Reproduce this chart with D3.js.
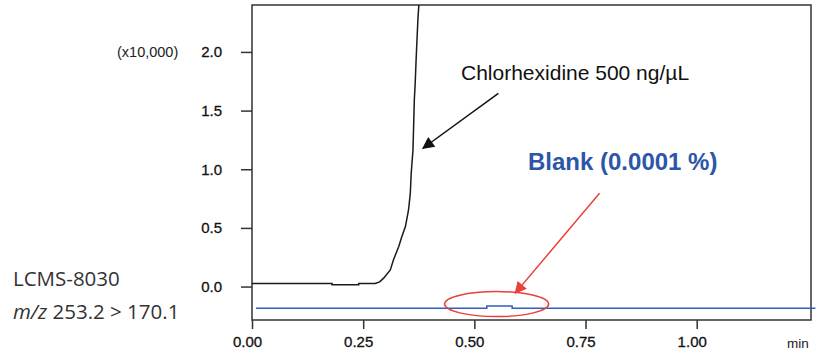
<!DOCTYPE html>
<html>
<head>
<meta charset="utf-8">
<script src="https://cdn.jsdelivr.net/npm/d3@7"></script>
<style>
  body { margin: 0; background: #fff; }
  svg { display: block; }
</style>
</head>
<body>
<figure id="chrom" style="margin:0"></figure>
<script>
// chromatogram traces, time in min, intensity in x10,000
const chxTime = [0, 0.180, 0.180, 0.240, 0.240, 0.277, 0.287, 0.296, 0.311, 0.318, 0.330, 0.337, 0.345, 0.352, 0.356, 0.358, 0.362, 0.365, 0.367, 0.369, 0.373, 0.376, 0.378];
const chxInt  = [0.026, 0.026, 0.015, 0.015, 0.026, 0.026, 0.040, 0.072, 0.142, 0.227, 0.341, 0.426, 0.511, 0.653, 0.796, 0.966, 1.164, 1.590, 1.735, 1.931, 2.272, 2.45, 2.6];

const blankTime = [0.009, 0.528, 0.528, 0.585, 0.585, 1.267];
const blankInt  = [-0.184, -0.184, -0.165, -0.165, -0.184, -0.184];

const xTicks = [0, 0.25, 0.5, 0.75, 1.0];
const yTicks = [0, 0.5, 1.0, 1.5, 2.0];

const width = 818, height = 357;
const plotLeft = 252, plotRight = 811, plotTop = 5, plotBottom = 320;

const svg = d3.select('figure#chrom')
  .append('svg')
  .attr('width', width)
  .attr('height', height);

const x = d3.scaleLinear().domain([0, 1.257]).range([plotLeft, plotRight]);
const y = d3.scaleLinear().domain([-0.285, 2.40]).range([plotBottom, plotTop]);

const tickFont = '"Liberation Sans", Arial, sans-serif';

// y axis
const yAxis = svg.append('g')
  .attr('transform', 'translate(' + plotLeft + ',0)')
  .call(d3.axisLeft(y).tickValues(yTicks).tickSize(11).tickPadding(19).tickFormat(d3.format('.1f')));
yAxis.select('.domain').remove();
yAxis.selectAll('line').attr('stroke', '#333').attr('stroke-width', 1.5);
yAxis.selectAll('text').attr('font-family', tickFont).attr('font-size', 15).attr('fill', '#111')
  .attr('stroke', '#111').attr('stroke-width', 0.3);

// x axis
const xAxis = svg.append('g')
  .attr('transform', 'translate(0,' + plotBottom + ')')
  .call(d3.axisBottom(x).tickValues(xTicks).tickSize(9).tickPadding(7).tickFormat(d3.format('.2f')));
xAxis.select('.domain').remove();
xAxis.selectAll('line').attr('stroke', '#333').attr('stroke-width', 1.5);
xAxis.selectAll('text').attr('font-family', tickFont).attr('font-size', 15).attr('fill', '#111').attr('dx', -5)
  .attr('stroke', '#111').attr('stroke-width', 0.3);

svg.append('text')
  .attr('x', 787).attr('y', 348)
  .attr('font-family', tickFont).attr('font-size', 13.5).attr('fill', '#222')
  .text('min');

svg.append('text')
  .attr('x', 117).attr('y', 57)
  .attr('font-family', tickFont).attr('font-size', 14.5).attr('fill', '#222')
  .text('(x10,000)');

// frame
svg.append('rect')
  .attr('x', plotLeft).attr('y', plotTop)
  .attr('width', plotRight - plotLeft).attr('height', plotBottom - plotTop)
  .attr('fill', 'none').attr('stroke', '#333').attr('stroke-width', 1.5);

svg.append('clipPath').attr('id', 'plotclip')
  .append('rect')
  .attr('x', plotLeft).attr('y', plotTop)
  .attr('width', plotRight - plotLeft).attr('height', plotBottom - plotTop);

const line = d3.line()
  .x(d => x(d[0]))
  .y(d => y(d[1]));

// blank trace
svg.append('path')
  .datum(d3.zip(blankTime, blankInt))
  .attr('fill', 'none')
  .attr('stroke', '#2f5fbf')
  .attr('stroke-width', 1.5)
  .attr('d', line);

// chlorhexidine trace
svg.append('path')
  .datum(d3.zip(chxTime, chxInt))
  .attr('clip-path', 'url(#plotclip)')
  .attr('fill', 'none')
  .attr('stroke', '#1a1a1a')
  .attr('stroke-width', 1.5)
  .attr('d', line);

// arrow heads
const defs = svg.append('defs');
[['headBlack', '#111'], ['headRed', '#e8413a']].forEach(([id, c]) => {
  defs.append('marker')
    .attr('id', id)
    .attr('viewBox', '0 0 10 10')
    .attr('refX', 9).attr('refY', 5)
    .attr('markerWidth', 15).attr('markerHeight', 12)
    .attr('markerUnits', 'userSpaceOnUse')
    .attr('orient', 'auto')
    .append('path')
    .attr('d', 'M0,0 L10,5 L0,10 Z')
    .attr('fill', c);
});

// annotation for chlorhexidine
svg.append('line')
  .attr('x1', x(0.554)).attr('y1', y(1.647))
  .attr('x2', x(0.3845)).attr('y2', y(1.179))
  .attr('stroke', '#111').attr('stroke-width', 1.5)
  .attr('marker-end', 'url(#headBlack)');

svg.append('text')
  .attr('x', 461).attr('y', 80)
  .attr('font-family', tickFont).attr('font-size', 21).attr('fill', '#111')
  .text('Chlorhexidine 500 ng/µL');

// annotation for blank
svg.append('ellipse')
  .attr('cx', x(0.550)).attr('cy', y(-0.149))
  .attr('rx', x(0.117) - x(0)).attr('ry', y(0) - y(0.1065))
  .attr('fill', 'none').attr('stroke', '#e8413a').attr('stroke-width', 1.5);

svg.append('line')
  .attr('x1', x(0.7815)).attr('y1', y(0.796))
  .attr('x2', x(0.592)).attr('y2', y(-0.056))
  .attr('stroke', '#e8413a').attr('stroke-width', 1.5)
  .attr('marker-end', 'url(#headRed)');

svg.append('text')
  .attr('x', 528).attr('y', 170)
  .attr('font-family', tickFont).attr('font-size', 24).attr('font-weight', 'bold').attr('fill', '#2c56a8')
  .text('Blank (0.0001 %)');

// instrument label
const labelFont = '"Open Sans", "Noto Sans", sans-serif';
svg.append('text')
  .attr('x', 13).attr('y', 286)
  .attr('font-family', labelFont).attr('font-size', 20.5).attr('fill', '#333')
  .text('LCMS-8030');

const mz = svg.append('text')
  .attr('x', 13).attr('y', 319)
  .attr('font-family', labelFont).attr('font-size', 20.5).attr('fill', '#333');
mz.append('tspan').attr('font-style', 'italic').text('m/z');
mz.append('tspan').text(' 253.2 > 170.1');
</script>
</body>
</html>
